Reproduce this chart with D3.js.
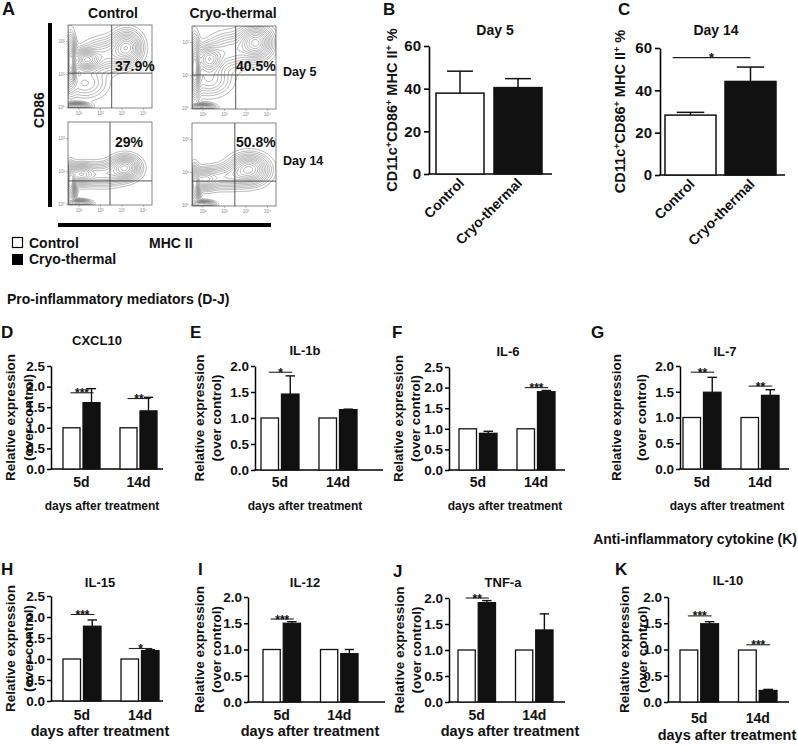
<!DOCTYPE html>
<html><head><meta charset="utf-8">
<script src="https://cdn.jsdelivr.net/npm/d3@7"></script>
<style>
body{margin:0;background:#fff}
svg text{font-family:"Liberation Sans",Arial,Helvetica,sans-serif;font-weight:bold;fill:#111}
</style></head>
<body><svg id="c" width="798" height="745"></svg>
<script>
// ---------------- DATA ----------------
const groups = ["Control", "Cryo-thermal"];
const days = ["5d", "14d"];
const genes = ["CXCL10", "IL-1b", "IL-6", "IL-7", "IL-15", "IL-12", "TNF-a", "IL-10"];
const geneLetters = ["D", "E", "F", "G", "H", "I", "J", "K"];
const geneYMax = [2.5, 2.0, 2.5, 2.0, 2.5, 2.0, 2.0, 2.0];
const controlMeans = [[1,1],[1,1],[1,1],[1,1],[1,1],[1,1],[1,1],[0.99,0.99]];
const cryoMeans = [[1.61,1.41],[1.46,1.16],[0.89,1.90],[1.49,1.43],[1.78,1.20],[1.50,0.92],[1.91,1.385],[1.49,0.22]];
const cryoSEM   = [[0.34,0.33],[0.35,0.01],[0.05,0.03],[0.29,0.11],[0.15,0.02],[0.03,0.08],[0.04,0.31],[0.04,0.02]];
// significance marks: [gene index, day index, bar height (value), label]
const sigMarks = [[0,0,1.85,"***"],[0,1,1.71,"**"],[1,0,1.88,"*"],[2,1,2.0,"***"],[3,0,1.88,"**"],[3,1,1.61,"**"],
                  [4,0,2.06,"***"],[4,1,1.25,"*"],[5,0,1.58,"***"],[6,0,2.0,"**"],[7,0,1.64,"***"],[7,1,1.09,"***"]];

const dcTitles = ["Day 5", "Day 14"];
const dcLetters = ["B", "C"];
const dcMeans = [[37.9, 40.5], [28.3, 44.2]];
const dcSEM = [[10.3, 4.2], [1.3, 6.8]];
const dcTicks = [0, 20, 40, 60];
const dcSig = [null, [55.5, "*"]];

const flowCols = ["Control", "Cryo-thermal"];
const flowRows = ["Day 5", "Day 14"];
const flowPercents = ["37.9%", "40.5%", "29%", "50.8%"];
const flowXTicks = ["10¹", "10²", "10³", "10⁴"];
const flowYTicks = ["10⁰", "10¹", "10²"];
// density blobs per plot: [cx, cy, sx, sy, weight] (cx, cy as fraction of plot, y from top)
const flowBlobs = [
  [[0.03,0.45,0.035,0.17,1.0],[0.22,0.42,0.09,0.07,0.8],[0.45,0.36,0.15,0.11,0.35],[0.70,0.27,0.10,0.11,0.7],[0.10,0.98,0.08,0.025,0.9],[0.2,0.7,0.15,0.11,0.25]],
  [[0.03,0.50,0.035,0.19,1.0],[0.20,0.40,0.09,0.09,0.7],[0.45,0.30,0.15,0.12,0.35],[0.76,0.20,0.11,0.11,0.8],[0.12,0.98,0.08,0.025,0.8],[0.2,0.65,0.15,0.11,0.3]],
  [[0.03,0.75,0.035,0.12,1.0],[0.15,0.63,0.09,0.07,0.7],[0.42,0.63,0.15,0.08,0.4],[0.68,0.55,0.10,0.08,0.75],[0.12,0.98,0.08,0.025,0.8]],
  [[0.03,0.75,0.035,0.12,1.0],[0.15,0.68,0.09,0.07,0.6],[0.40,0.65,0.14,0.08,0.4],[0.68,0.56,0.13,0.10,0.85],[0.12,0.98,0.08,0.025,0.8]]
];
const flowLevels = [0.03,0.06,0.09,0.13,0.17,0.22,0.27,0.33,0.39,0.46,0.53,0.61,0.69,0.78,0.88];

// ---------------- LAYOUT ----------------
const svg = d3.select("#c");
function txt(p, x, y, s, size, anchor) {
  return p.append("text").attr("x", x).attr("y", y).attr("font-size", size)
    .attr("text-anchor", anchor || "start").text(s);
}

// ---------- Panel A ----------
txt(svg, 2, 15, "A", 18);
const flowFrames = [{x:68,y:25,vx:0.52,hy:0.58},{x:192,y:26,vx:0.52,hy:0.59},{x:68,y:122,vx:0.5,hy:0.71},{x:192,y:123,vx:0.51,hy:0.70}];
const FW = 84, FH = 83;
const defs = svg.append("defs");
flowFrames.forEach((f, k) => {
  const g = svg.append("g").attr("transform", `translate(${f.x},${f.y})`);
  defs.append("clipPath").attr("id", "fc" + k).append("rect").attr("width", FW).attr("height", FH);
  const vals = new Float64Array(FW * FH);
  for (let j = 0; j < FH; j++) for (let i = 0; i < FW; i++) {
    const px = (i + 0.5) / FW, py = (j + 0.5) / FH;
    let v = 0;
    flowBlobs[k].forEach(b => { v += b[4] * Math.exp(-((px-b[0])**2/(2*b[2]*b[2]) + (py-b[1])**2/(2*b[3]*b[3]))); });
    vals[j * FW + i] = v;
  }
  const mx = d3.max(vals);
  const cons = d3.contours().size([FW, FH]).thresholds(flowLevels.map(t => t * mx))(vals);
  g.append("g").attr("clip-path", `url(#fc${k})`).selectAll("path").data(cons).join("path")
    .attr("d", d3.geoPath()).attr("fill", "none").attr("stroke", "#6a6a6a").attr("stroke-width", 0.5);
  g.append("rect").attr("width", FW).attr("height", FH).attr("fill", "none").attr("stroke", "#666").attr("stroke-width", 0.8);
  g.append("line").attr("x1", f.vx*FW).attr("x2", f.vx*FW).attr("y1", 0).attr("y2", FH).attr("stroke", "#444").attr("stroke-width", 0.9);
  g.append("line").attr("x1", 0).attr("x2", FW).attr("y1", f.hy*FH).attr("y2", f.hy*FH).attr("stroke", "#444").attr("stroke-width", 0.9);
  const xd = d3.scaleLinear().domain([1, 4]).range([0.13*FW, 0.9*FW]);
  const yd = d3.scaleLinear().domain([0, 2]).range([0.99*FH, 0.2*FH]);
  flowXTicks.forEach((t, i) => {
    g.append("line").attr("x1", xd(i+1)).attr("x2", xd(i+1)).attr("y1", FH).attr("y2", FH+2).attr("stroke", "#777").attr("stroke-width", 0.5);
    txt(g, xd(i+1), FH + 7, t, 4.5, "middle").style("fill", "#888").style("font-weight", "normal");
  });
  flowYTicks.forEach((t, i) => {
    g.append("line").attr("x1", -2).attr("x2", 0).attr("y1", yd(i)).attr("y2", yd(i)).attr("stroke", "#777").attr("stroke-width", 0.5);
    txt(g, -3, yd(i) + 1.5, t, 4.5, "end").style("fill", "#888").style("font-weight", "normal");
  });
});
txt(svg, 113, 18, flowCols[0], 14, "middle");
txt(svg, 233, 18, flowCols[1], 14, "middle");
txt(svg, 115, 71, flowPercents[0], 14);
txt(svg, 236, 71, flowPercents[1], 14);
txt(svg, 115, 147, flowPercents[2], 14);
txt(svg, 236, 147, flowPercents[3], 14);
txt(svg, 283, 76, flowRows[0], 12.5);
txt(svg, 283, 165, flowRows[1], 12.5);
svg.append("rect").attr("x", 48).attr("y", 23).attr("width", 4).attr("height", 184).attr("fill", "#000");
svg.append("rect").attr("x", 58).attr("y", 223).attr("width", 213).attr("height", 4).attr("fill", "#000");
svg.append("text").attr("transform", "translate(44,110) rotate(-90)").attr("text-anchor", "middle").attr("font-size", 14).text("CD86");
txt(svg, 149, 248, "MHC II", 14);
// legend
svg.append("rect").attr("x", 12.5).attr("y", 237.5).attr("width", 10).attr("height", 10).attr("fill", "#fff").attr("stroke", "#000").attr("stroke-width", 1.2);
svg.append("rect").attr("x", 12).attr("y", 254).attr("width", 11).attr("height", 11).attr("fill", "#000");
txt(svg, 29, 248, groups[0], 14);
txt(svg, 29, 264, groups[1], 14);

// ---------- Panels B, C ----------
const dcLayout = [
  {ax:429, axEnd:552, b0:436, b1:542, gap:10, y0:174, yT:46, lx:383, tx:495, ylx:397},
  {ax:660, axEnd:785, b0:665, b1:776, gap:9, y0:175, yT:48, lx:618, tx:716, ylx:625}
];
dcLayout.forEach((L, p) => {
  const g = svg.append("g");
  const y = d3.scaleLinear().domain([0, 60]).range([L.y0, L.yT]);
  const x = d3.scaleBand().domain(groups).range([L.b0, L.b1]).paddingInner(L.gap / ((L.b1 - L.b0 + L.gap) / 2)).paddingOuter(0);
  const bw = x.bandwidth();
  txt(g, L.lx, 15, dcLetters[p], 17);
  txt(g, L.tx, 35, dcTitles[p], 14, "middle");
  const ya = g.append("g").attr("transform", `translate(${L.ax},0)`)
    .call(d3.axisLeft(y).tickValues(dcTicks).tickSize(5).tickSizeOuter(0).tickPadding(3));
  ya.select(".domain").attr("stroke", "#000").attr("stroke-width", 1.6);
  ya.selectAll(".tick line").attr("stroke", "#000").attr("stroke-width", 1.6);
  ya.selectAll(".tick text").attr("font-size", 15).attr("font-family", null).style("fill", "#111");
  g.append("line").attr("x1", L.ax - 0.8).attr("x2", L.axEnd).attr("y1", L.y0).attr("y2", L.y0).attr("stroke", "#000").attr("stroke-width", 1.6);
  groups.forEach((gr, i) => {
    const m = dcMeans[p][i], s = dcSEM[p][i], cx = x(gr) + bw / 2;
    g.append("line").attr("x1", cx).attr("x2", cx).attr("y1", y(m)).attr("y2", y(m + s)).attr("stroke", "#111").attr("stroke-width", 1.5);
    g.append("line").attr("x1", cx - bw*0.27).attr("x2", cx + bw*0.27).attr("y1", y(m + s)).attr("y2", y(m + s)).attr("stroke", "#111").attr("stroke-width", 1.5);
    g.append("rect").attr("x", x(gr)).attr("y", y(m)).attr("width", bw).attr("height", L.y0 - y(m))
      .attr("fill", i === 0 ? "#fff" : "#111").attr("stroke", "#111").attr("stroke-width", 1.5);
    g.append("text").attr("transform", `translate(${cx + 5},${L.y0 + 10}) rotate(-45)`).attr("text-anchor", "end").attr("font-size", 14).text(gr);
  });
  const yl = g.append("text").attr("transform", `translate(${L.ylx},${(L.y0 + L.yT) / 2}) rotate(-90)`).attr("text-anchor", "middle").attr("font-size", 14.5);
  [["CD11c",0],["+",1],["CD86",0],["+",1],[" MHC II",0],["+",1],[" %",0]].forEach(([s, sup], k, arr) => {
    const prevSup = k > 0 && arr[k-1][1];
    yl.append("tspan").attr("font-size", sup ? 9 : 14.5).attr("dy", sup ? -5 : (prevSup ? 5 : 0)).text(s);
  });
  if (dcSig[p]) {
    const [v, lab] = dcSig[p];
    const x1 = x(groups[0]) + bw * 0.15, x2 = x(groups[1]) + bw / 2;
    g.append("line").attr("x1", x1).attr("x2", x2).attr("y1", y(v)).attr("y2", y(v)).attr("stroke", "#222").attr("stroke-width", 1.2);
    txt(g, (x1 + x2) / 2, y(v) + 4, lab, 13, "middle");
  }
});

// ---------- Section headers ----------
txt(svg, 7, 304, "Pro-inflammatory mediators (D-J)", 14);
txt(svg, 797, 544, "Anti-inflammatory cytokine (K)", 14, "end");

// ---------- Panels D-K ----------
const exLayout = [
  {ax:51,  axEnd:163, b0:63,  b1:157, y0:469, yT:366, lx:1,   ly:338, tx:97,  ty:345, yl:[10,28],   xtY:487, dx:102, dy:510, ds:12},
  {ax:255, axEnd:383, b0:261, b1:357, y0:470, yT:366, lx:190, ly:338, tx:305, ty:355, yl:[199,216], xtY:487, dx:305, dy:510, ds:12},
  {ax:449, axEnd:565, b0:459, b1:555, y0:470, yT:367, lx:392, ly:338, tx:508, ty:356, yl:[398,415], xtY:487, dx:505, dy:510, ds:12},
  {ax:680, axEnd:789, b0:683, b1:779, y0:469, yT:366, lx:591, ly:338, tx:725, ty:356, yl:[616,641], xtY:487, dx:727, dy:510, ds:12},
  {ax:51,  axEnd:163, b0:63,  b1:159, y0:701, yT:596, lx:1,   ly:575, tx:100, ty:587, yl:[10,28],   xtY:720, dx:100, dy:736, ds:14.5},
  {ax:248, axEnd:385, b0:263, b1:358, y0:702, yT:597, lx:198, ly:575, tx:305, ty:587, yl:[199,216], xtY:720, dx:310, dy:736, ds:14.5},
  {ax:449, axEnd:565, b0:458, b1:553, y0:702, yT:598, lx:393, ly:577, tx:503, ty:587, yl:[399,416], xtY:720, dx:510, dy:736, ds:14.5},
  {ax:668, axEnd:789, b0:680, b1:777, y0:702, yT:597, lx:615, ly:575, tx:728, ty:585, yl:[624,642], xtY:723, dx:727, dy:740, ds:14.5}
];
exLayout.forEach((L, gi) => {
  const g = svg.append("g");
  const ymax = geneYMax[gi];
  const y = d3.scaleLinear().domain([0, ymax]).range([L.y0, L.yT]);
  const gap = 20;
  const x0 = d3.scaleBand().domain(days).range([L.b0, L.b1]).paddingInner(gap / ((L.b1 - L.b0 + gap) / 2)).paddingOuter(0);
  const x1 = d3.scaleBand().domain(groups).range([0, x0.bandwidth()]).paddingInner(3 / ((x0.bandwidth() + 3) / 2)).paddingOuter(0);
  const bw = x1.bandwidth();
  txt(g, L.lx, L.ly, geneLetters[gi], 17);
  txt(g, L.tx, L.ty, genes[gi], 13, "middle");
  const ya = g.append("g").attr("transform", `translate(${L.ax},0)`)
    .call(d3.axisLeft(y).tickValues(d3.range(0, ymax + 1e-9, 0.5)).tickFormat(d3.format(".1f")).tickSize(4).tickSizeOuter(0).tickPadding(2));
  ya.select(".domain").attr("stroke", "#000").attr("stroke-width", 1.5);
  ya.selectAll(".tick line").attr("stroke", "#000").attr("stroke-width", 1.5);
  ya.selectAll(".tick text").attr("font-size", 13.5).attr("font-family", null).style("fill", "#111");
  g.append("line").attr("x1", L.ax - 0.75).attr("x2", L.axEnd).attr("y1", L.y0).attr("y2", L.y0).attr("stroke", "#000").attr("stroke-width", 1.5);
  const xa = g.append("g").attr("transform", `translate(0,${L.y0})`)
    .call(d3.axisBottom(x0).tickSize(0).tickPadding(L.xtY - L.y0 - 10));
  xa.select(".domain").remove();
  xa.selectAll(".tick text").attr("font-size", 14).attr("font-family", null).style("fill", "#111");
  days.forEach((d, di) => {
    const vals = [controlMeans[gi][di], cryoMeans[gi][di]];
    groups.forEach((gr, i) => {
      const bx = x0(d) + x1(gr), m = vals[i];
      if (i === 1) {
        const s = cryoSEM[gi][di], cx = bx + bw / 2;
        g.append("line").attr("x1", cx).attr("x2", cx).attr("y1", y(m)).attr("y2", y(m + s)).attr("stroke", "#111").attr("stroke-width", 1.4);
        g.append("line").attr("x1", cx - bw*0.27).attr("x2", cx + bw*0.27).attr("y1", y(m + s)).attr("y2", y(m + s)).attr("stroke", "#111").attr("stroke-width", 1.4);
      }
      g.append("rect").attr("x", bx).attr("y", y(m)).attr("width", bw).attr("height", L.y0 - y(m))
        .attr("fill", i === 0 ? "#fff" : "#111").attr("stroke", "#111").attr("stroke-width", 1.3);
    });
  });
  sigMarks.filter(s => s[0] === gi).forEach(([, di, v, lab]) => {
    const xa1 = x0(days[di]) + x1(groups[0]) + bw / 2 - 1;
    const xa2 = x0(days[di]) + x1(groups[1]) + bw / 2 + 2;
    g.append("line").attr("x1", xa1).attr("x2", xa2).attr("y1", y(v)).attr("y2", y(v)).attr("stroke", "#222").attr("stroke-width", 1.1);
    txt(g, (xa1 + xa2) / 2, y(v) + 4.5, lab, 12, "middle");
  });
  const yc = (L.y0 + L.yT) / 2;
  g.append("text").attr("transform", `translate(${L.yl[0] + 5},${yc}) rotate(-90)`).attr("text-anchor", "middle").attr("font-size", 13.5).text("Relative expression");
  g.append("text").attr("transform", `translate(${L.yl[1] + 5},${yc}) rotate(-90)`).attr("text-anchor", "middle").attr("font-size", 13.5).text("(over control)");
  txt(g, L.dx, L.dy, "days after treatment", L.ds, "middle");
});
</script></body></html>
